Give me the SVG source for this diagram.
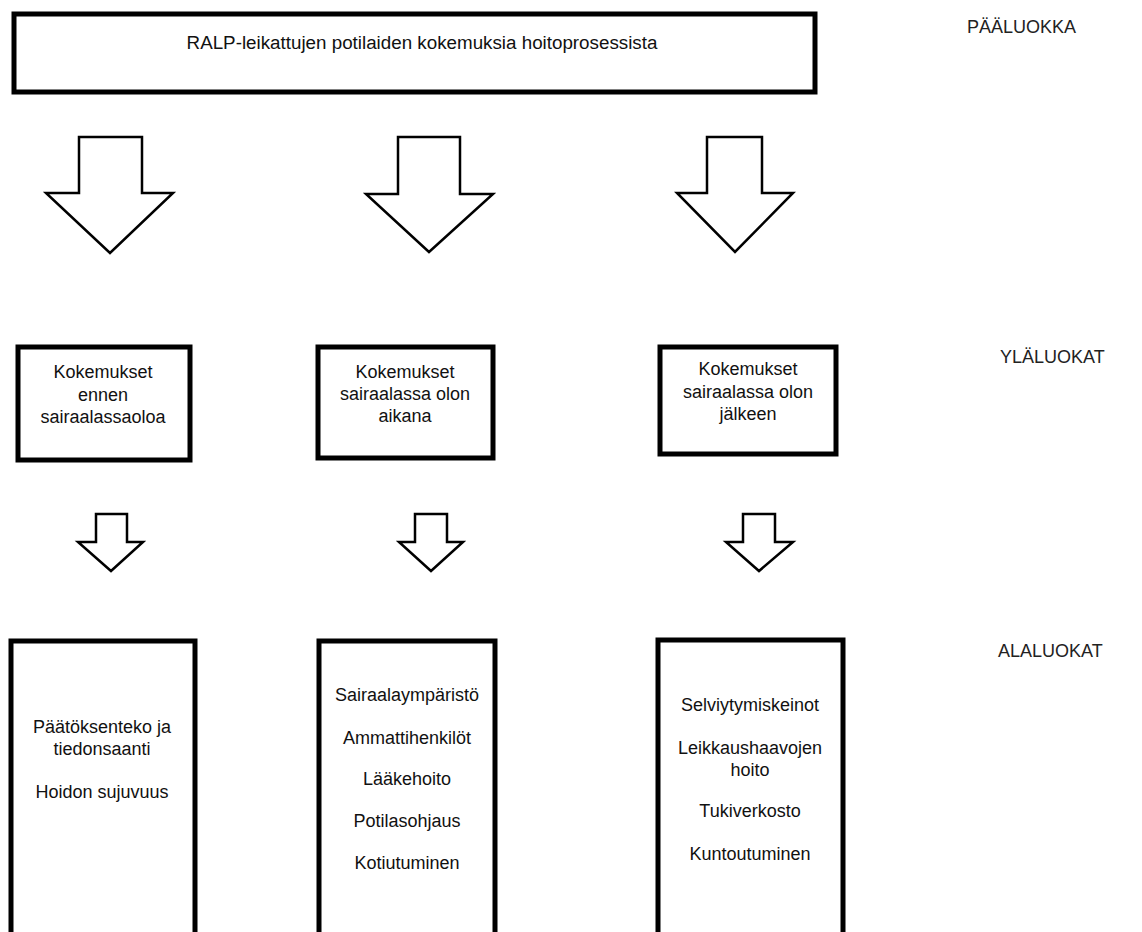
<svg xmlns="http://www.w3.org/2000/svg" width="1142" height="932" viewBox="0 0 1142 932">
<style>
.box{fill:#fff;stroke:#000;stroke-width:5}
.arr{fill:#fff;stroke:#000;stroke-width:2.5;stroke-linejoin:miter}
.sarr{fill:#fff;stroke:#000;stroke-width:2.5;stroke-linejoin:miter}
text{font-family:"Liberation Sans",Arial,sans-serif;font-size:18px;fill:#111}
.c{text-anchor:middle}
.lbl{fill:#222}
</style>
<rect width="1142" height="932" fill="#fff"/>
<g id="main">
<rect class="box" x="14" y="14" width="801" height="78"/>
<text class="c" x="422" y="49" style="font-size:18.8px">RALP-leikattujen potilaiden kokemuksia hoitoprosessista</text>
</g>
<g id="labels">
<text class="lbl" x="967" y="33">PÄÄLUOKKA</text>
<text class="lbl" x="1000" y="363">YLÄLUOKAT</text>
<text class="lbl" x="998" y="657">ALALUOKAT</text>
</g>
<g id="connectors">
<polygon class="arr" points="79,137 142,137 142,193 173,193 110,253 46,193 79,193"/>
<polygon class="arr" points="398,137 460,137 460,194 493,194 429,252 366,194 398,194"/>
<polygon class="arr" points="707,137 762,137 762,193 793,193 735,252 677,193 707,193"/>
<polygon class="sarr" points="96,514 127,514 127,542 143,542 111,571 78,542 96,542"/>
<polygon class="sarr" points="415,514 447,514 447,542 463,542 431,571 399,542 415,542"/>
<polygon class="sarr" points="743,514 775,514 775,542 793,542 759,571 726,542 743,542"/>
</g>
<g id="yla1">
<rect class="box" x="18" y="347" width="172" height="113"/>
<text class="c" x="103" y="378">Kokemukset</text>
<text class="c" x="103" y="401">ennen</text>
<text class="c" x="103" y="423">sairaalassaoloa</text>
</g>
<g id="yla2">
<rect class="box" x="318" y="347" width="175" height="111"/>
<text class="c" x="405" y="378">Kokemukset</text>
<text class="c" x="405" y="400">sairaalassa olon</text>
<text class="c" x="405" y="422">aikana</text>
</g>
<g id="yla3">
<rect class="box" x="660" y="347" width="176" height="107"/>
<text class="c" x="748" y="375">Kokemukset</text>
<text class="c" x="748" y="398">sairaalassa olon</text>
<text class="c" x="748" y="420">jälkeen</text>
</g>
<g id="ala1">
<rect class="box" x="11" y="641" width="184" height="320"/>
<text class="c" x="102" y="733">Päätöksenteko ja</text>
<text class="c" x="102" y="755">tiedonsaanti</text>
<text class="c" x="102" y="798">Hoidon sujuvuus</text>
</g>
<g id="ala2">
<rect class="box" x="319" y="641" width="176" height="320"/>
<text class="c" x="407" y="701">Sairaalaympäristö</text>
<text class="c" x="407" y="744">Ammattihenkilöt</text>
<text class="c" x="407" y="785">Lääkehoito</text>
<text class="c" x="407" y="827">Potilasohjaus</text>
<text class="c" x="407" y="869">Kotiutuminen</text>
</g>
<g id="ala3">
<rect class="box" x="658" y="640" width="185" height="320"/>
<text class="c" x="750" y="711">Selviytymiskeinot</text>
<text class="c" x="750" y="754">Leikkaushaavojen</text>
<text class="c" x="750" y="776">hoito</text>
<text class="c" x="750" y="817">Tukiverkosto</text>
<text class="c" x="750" y="860">Kuntoutuminen</text>
</g>
</svg>
